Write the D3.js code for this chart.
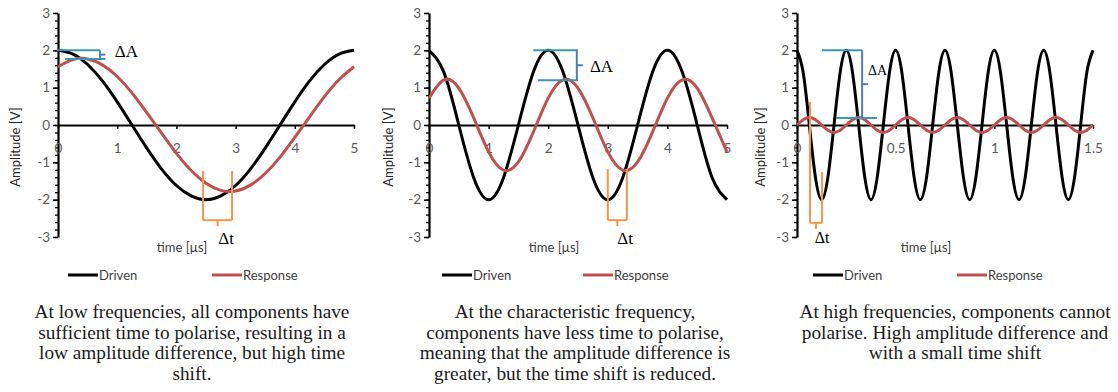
<!DOCTYPE html>
<html>
<head>
<meta charset="utf-8">
<script src="https://cdnjs.cloudflare.com/ajax/libs/d3/7.8.5/d3.min.js"></script>
<style>
  body { margin: 0; background: #fff; }
  svg { display: block; }
  .tick text { font-family: Lato, sans-serif; font-size: 13.5px; fill: #595959; }
</style>
</head>
<body>
<div id="chart"></div>
<script>
// Panel 1 - low frequency
const time1 = [0, 0.25, 0.5, 0.75, 1, 1.25, 1.5, 1.75, 2, 2.25, 2.5, 2.75, 3, 3.25, 3.5, 3.75, 4, 4.25, 4.5, 4.75, 5];
const driven1 = [2, 1.9, 1.62, 1.18, 0.62, 0, -0.62, -1.18, -1.62, -1.9, -2, -1.9, -1.62, -1.18, -0.62, 0, 0.62, 1.18, 1.62, 1.9, 2];
const response1 = [1.56, 1.75, 1.77, 1.61, 1.3, 0.86, 0.33, -0.22, -0.76, -1.22, -1.56, -1.75, -1.77, -1.61, -1.3, -0.86, -0.33, 0.22, 0.76, 1.22, 1.56];

// Panel 2 - characteristic frequency
const time2 = [0, 0.25, 0.5, 0.75, 1, 1.25, 1.5, 1.75, 2, 2.25, 2.5, 2.75, 3, 3.25, 3.5, 3.75, 4, 4.25, 4.5, 4.75, 5];
const driven2 = [2, 1.41, 0, -1.41, -2, -1.41, 0, 1.41, 2, 1.41, 0, -1.41, -2, -1.41, 0, 1.41, 2, 1.41, 0, -1.41, -2];
const response2 = [0.72, 1.21, 0.99, 0.19, -0.72, -1.21, -0.99, -0.19, 0.72, 1.21, 0.99, 0.19, -0.72, -1.21, -0.99, -0.19, 0.72, 1.21, 0.99, 0.19, -0.72];

// Panel 3 - high frequency
const time3 = [0, 0.03125, 0.0625, 0.09375, 0.125, 0.15625, 0.1875, 0.21875,
  0.25, 0.28125, 0.3125, 0.34375, 0.375, 0.40625, 0.4375, 0.46875,
  0.5, 0.53125, 0.5625, 0.59375, 0.625, 0.65625, 0.6875, 0.71875,
  0.75, 0.78125, 0.8125, 0.84375, 0.875, 0.90625, 0.9375, 0.96875,
  1, 1.03125, 1.0625, 1.09375, 1.125, 1.15625, 1.1875, 1.21875,
  1.25, 1.28125, 1.3125, 1.34375, 1.375, 1.40625, 1.4375, 1.46875, 1.5];
const driven3 = [2, 1.41, 0, -1.41, -2, -1.41, 0, 1.41,
  2, 1.41, 0, -1.41, -2, -1.41, 0, 1.41,
  2, 1.41, 0, -1.41, -2, -1.41, 0, 1.41,
  2, 1.41, 0, -1.41, -2, -1.41, 0, 1.41,
  2, 1.41, 0, -1.41, -2, -1.41, 0, 1.41,
  2, 1.41, 0, -1.41, -2, -1.41, 0, 1.41, 2];
const response3 = [0, 0.14, 0.2, 0.14, 0, -0.14, -0.2, -0.14,
  0, 0.14, 0.2, 0.14, 0, -0.14, -0.2, -0.14,
  0, 0.14, 0.2, 0.14, 0, -0.14, -0.2, -0.14,
  0, 0.14, 0.2, 0.14, 0, -0.14, -0.2, -0.14,
  0, 0.14, 0.2, 0.14, 0, -0.14, -0.2, -0.14,
  0, 0.14, 0.2, 0.14, 0, -0.14, -0.2, -0.14, 0];

// Axis ticks
const yTicks = [-3, -2, -1, 0, 1, 2, 3];
const yTickLabels = ['-3', '-2', '-1', '0', '1', '2', '3'];
const xTicks1 = [0, 1, 2, 3, 4, 5];
const xTickLabels1 = ['0', '1', '2', '3', '4', '5'];
const xTicks2 = [0, 1, 2, 3, 4, 5];
const xTickLabels2 = ['0', '1', '2', '3', '4', '5'];
const xTicks3 = [0, 0.5, 1, 1.5];
const xTickLabels3 = ['0', '0.5', '1', '1.5'];

// Captions
const caption1 = ['At low frequencies, all components have', 'sufficient time to polarise, resulting in a', 'low amplitude difference, but high time', 'shift.'];
const caption2 = ['At the characteristic frequency,', 'components have less time to polarise,', 'meaning that the amplitude difference is', 'greater, but the time shift is reduced.'];
const caption3 = ['At high frequencies, components cannot', 'polarise. High amplitude difference and', 'with a small time shift'];

// Annotations (data units)
const deltaA1 = { topX: [-0.02, 0.71], yTop: 2, botX: [0.12, 0.8], yBot: 1.77, bx: 0.71, tickX: 0.8, labelX: 0.96, labelY: 1.82, size: 17 };
const deltaA2 = { topX: [1.75, 2.5], yTop: 2, botX: [1.83, 2.5], yBot: 1.2, bx: 2.48, tickX: 2.58, labelX: 2.7, labelY: 1.42, size: 17 };
const deltaA3 = { topX: [0.127, 0.33], yTop: 2, botX: [0.198, 0.405], yBot: 0.19, bx: 0.33, tickX: 0.36, labelX: 0.36, labelY: 1.34, size: 14 };
const deltaT1 = { leftX: 2.45, leftTop: -1.23, rightX: 2.94, rightTop: -1.23, bottom: -2.55, tickX: 2.695, tickEnd: -2.71, labelX: 2.84, labelY: -3.2, size: 17 };
const deltaT2 = { leftX: 3.0, leftTop: -1.18, rightX: 3.32, rightTop: -1.18, bottom: -2.55, tickX: 3.16, tickEnd: -2.71, labelX: 3.29, labelY: -3.2, size: 17 };
const deltaT3 = { leftX: 0.066, leftTop: 0.62, rightX: 0.127, rightTop: -1.26, bottom: -2.62, tickX: 0.096, tickEnd: -2.78, labelX: 0.127, labelY: -3.16, size: 16 };

const W = 1118, H = 392;
const svg = d3.select('#chart').append('svg').attr('width', W).attr('height', H);

const panels = [
  { left: 58, width: 296, time: time1, driven: driven1, response: response1, xDomain: [0, 5], xTicks: xTicks1, xLabels: xTickLabels1,
    dA: deltaA1, dT: deltaT1, caption: caption1, capX: 192, yTitleX: 15, xTitleX: 182, legX: [68, 212] },
  { left: 429, width: 298, time: time2, driven: driven2, response: response2, xDomain: [0, 5], xTicks: xTicks2, xLabels: xTickLabels2,
    dA: deltaA2, dT: deltaT2, caption: caption2, capX: 575, yTitleX: 388, xTitleX: 554, legX: [442, 583] },
  { left: 797, width: 296, time: time3, driven: driven3, response: response3, xDomain: [0, 1.5], xTicks: xTicks3, xLabels: xTickLabels3,
    dA: deltaA3, dT: deltaT3, caption: caption3, capX: 955, yTitleX: 760, xTitleX: 926, legX: [813, 957] }
];

const plotTop = 13, plotBottom = 237;
const driveColor = '#000000', respColor = '#C0504D';

panels.forEach((p) => {
  const x = d3.scaleLinear().domain(p.xDomain).range([p.left, p.left + p.width]);
  const y = d3.scaleLinear().domain([-3, 3]).range([plotBottom, plotTop]);
  const g = svg.append('g');

  // minor y ticks
  g.append('g')
    .attr('transform', `translate(${p.left},0)`)
    .call(d3.axisLeft(y).tickValues(d3.range(-3, 3.001, 0.2)).tickSize(3).tickSizeOuter(0).tickFormat(''))
    .call((a) => a.select('.domain').remove())
    .call((a) => a.selectAll('line').attr('stroke', '#000').attr('stroke-width', 1.3));

  // major y axis
  g.append('g')
    .attr('transform', `translate(${p.left},0)`)
    .call(d3.axisLeft(y).tickValues(yTicks).tickFormat((d, i) => yTickLabels[i])
      .tickSize(5).tickSizeOuter(0).tickPadding(3))
    .call((a) => a.select('.domain').attr('stroke', '#000').attr('stroke-width', 2.2))
    .call((a) => a.selectAll('line').attr('stroke', '#000').attr('stroke-width', 1.5));

  // x axis at zero
  const xAxis = d3.axisBottom(x).tickValues(p.xTicks).tickFormat((d, i) => p.xLabels[i])
    .tickSize(4).tickSizeOuter(0).tickPadding(14);
  g.append('g')
    .attr('transform', `translate(0,${y(0)})`)
    .call(xAxis)
    .call((a) => a.select('.domain').attr('stroke', '#000').attr('stroke-width', 2.2))
    .call((a) => a.selectAll('line').attr('stroke', '#000').attr('stroke-width', 1.5));

  // axis titles
  g.append('text')
    .attr('transform', `translate(${p.yTitleX},147) rotate(-90)`)
    .attr('dy', '0.35em')
    .style('text-anchor', 'middle')
    .style('font-family', 'Lato, sans-serif')
    .style('font-size', '13px')
    .style('fill', '#262626')
    .text('Amplitude [V]');

  g.append('text')
    .attr('x', p.xTitleX)
    .attr('y', 252)
    .style('text-anchor', 'middle')
    .style('font-family', 'Lato, sans-serif')
    .style('font-size', '13px')
    .style('fill', '#404040')
    .text('time [µs]');

  // series
  const line = (vals) => d3.line()
    .x((d, i) => x(p.time[i]))
    .y((d) => y(d))
    .curve(d3.curveNatural)(vals);

  g.append('path').attr('d', line(p.driven))
    .attr('fill', 'none').attr('stroke', driveColor).attr('stroke-width', 3);
  g.append('path').attr('d', line(p.response))
    .attr('fill', 'none').attr('stroke', respColor).attr('stroke-width', 3);

  // delta A bracket
  const a = p.dA;
  g.append('line').attr('x1', x(a.topX[0])).attr('x2', x(a.topX[1])).attr('y1', y(a.yTop)).attr('y2', y(a.yTop))
    .attr('stroke', '#3A97AF').attr('stroke-width', 2);
  g.append('line').attr('x1', x(a.botX[0])).attr('x2', x(a.botX[1])).attr('y1', y(a.yBot)).attr('y2', y(a.yBot))
    .attr('stroke', '#3A97AF').attr('stroke-width', 2);
  g.append('line').attr('x1', x(a.bx)).attr('x2', x(a.bx)).attr('y1', y(a.yTop)).attr('y2', y(a.yBot))
    .attr('stroke', '#4A7EC0').attr('stroke-width', 2);
  g.append('line').attr('x1', x(a.bx)).attr('x2', x(a.tickX))
    .attr('y1', y((a.yTop + a.yBot) / 2)).attr('y2', y((a.yTop + a.yBot) / 2))
    .attr('stroke', '#4A7EC0').attr('stroke-width', 2);
  g.append('text').attr('x', x(a.labelX)).attr('y', y(a.labelY))
    .style('font-family', '"Liberation Serif", serif').style('font-size', a.size + 'px').style('fill', '#000')
    .text('ΔA');

  // delta t bracket
  const t = p.dT;
  const orange = '#F79646';
  g.append('line').attr('x1', x(t.leftX)).attr('x2', x(t.leftX)).attr('y1', y(t.leftTop)).attr('y2', y(t.bottom))
    .attr('stroke', orange).attr('stroke-width', 2);
  g.append('line').attr('x1', x(t.rightX)).attr('x2', x(t.rightX)).attr('y1', y(t.rightTop)).attr('y2', y(t.bottom))
    .attr('stroke', orange).attr('stroke-width', 2);
  g.append('line').attr('x1', x(t.leftX)).attr('x2', x(t.rightX)).attr('y1', y(t.bottom)).attr('y2', y(t.bottom))
    .attr('stroke', orange).attr('stroke-width', 2);
  g.append('line').attr('x1', x(t.tickX)).attr('x2', x(t.tickX)).attr('y1', y(t.bottom)).attr('y2', y(t.tickEnd))
    .attr('stroke', orange).attr('stroke-width', 2);
  g.append('text').attr('x', x(t.labelX)).attr('y', y(t.labelY))
    .style('text-anchor', 'middle')
    .style('font-family', '"Liberation Serif", serif').style('font-size', t.size + 'px').style('fill', '#000')
    .text('Δt');

  // legend
  const legY = 275;
  [['Driven', driveColor], ['Response', respColor]].forEach((item, i) => {
    g.append('line').attr('x1', p.legX[i]).attr('x2', p.legX[i] + 30).attr('y1', legY).attr('y2', legY)
      .attr('stroke', item[1]).attr('stroke-width', 3);
    g.append('text').attr('x', p.legX[i] + 31).attr('y', legY).attr('dy', '0.35em')
      .style('font-family', 'Lato, sans-serif').style('font-size', '13px').style('fill', '#404040')
      .text(item[0]);
  });

  // caption
  g.append('g').selectAll('text')
    .data(p.caption)
    .join('text')
    .attr('x', p.capX)
    .attr('y', (d, i) => 318 + i * 20.7)
    .style('text-anchor', 'middle')
    .style('font-family', '"Liberation Serif", serif')
    .style('font-size', '19.3px')
    .style('fill', '#1a1a1a')
    .text((d) => d);
});
</script>
</body>
</html>
